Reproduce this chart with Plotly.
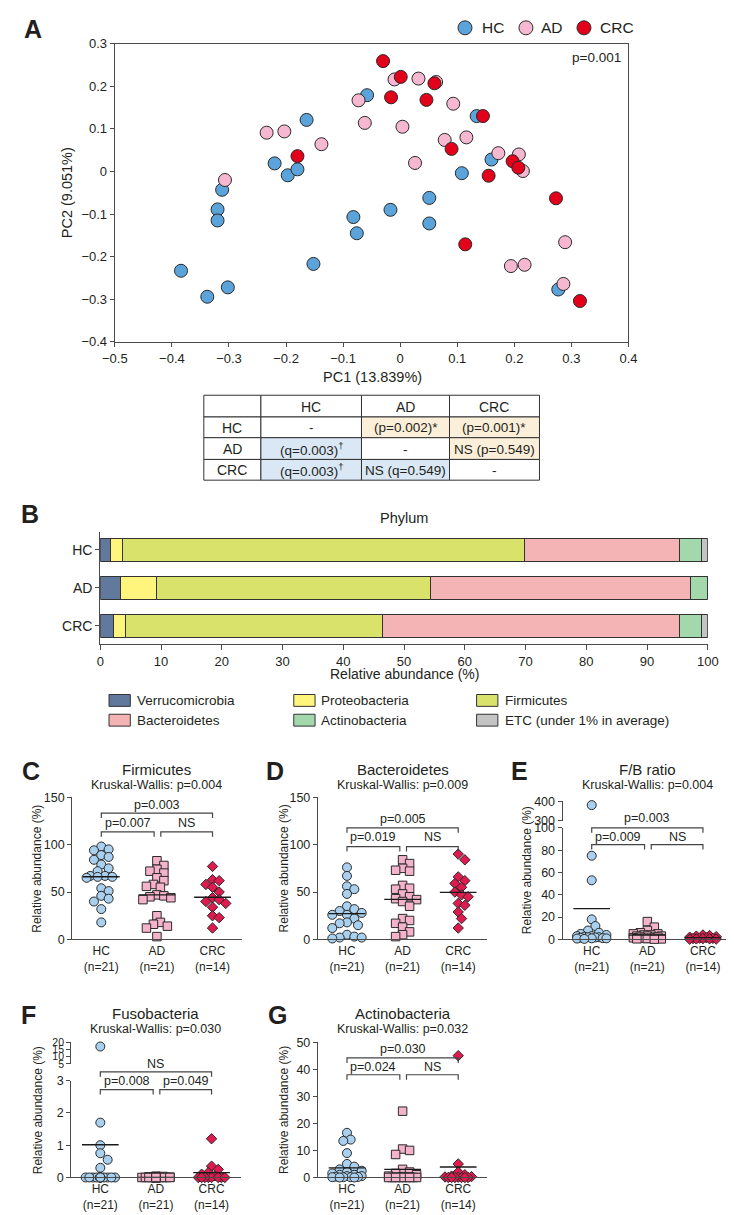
import numpy as np
import plotly.graph_objects as go

W, H = 734, 1215
FONT = "Liberation Sans, Arial, Helvetica, sans-serif"
LETTER_FONT = "Liberation Sans Narrow, Liberation Sans, Arial, sans-serif"
TXT = "#231f20"
AX = "#4a4a4a"

# ---------------- Panel A : PCoA ----------------
pcoa_groups = ["HC", "AD", "CRC"]
hc_pc1 = [-0.384, -0.338, -0.302, -0.320, -0.320, -0.312, -0.164, -0.220, -0.197, -0.180, -0.152,
          -0.082, -0.076, -0.058, -0.017, 0.051, 0.051, 0.108, 0.134, 0.160, 0.277]
hc_pc2 = [-0.233, -0.294, -0.272, -0.089, -0.115, -0.043, 0.121, 0.019, -0.009, 0.005, -0.217,
          -0.107, -0.145, 0.179, -0.090, -0.062, -0.122, -0.004, 0.130, 0.028, -0.277]
ad_pc1 = [-0.307, -0.234, -0.203, -0.138, -0.073, -0.062, -0.010, 0.032, 0.063, 0.093, 0.004,
          0.078, 0.116, 0.172, 0.208, 0.215, 0.026, 0.289, 0.194, 0.218, 0.286]
ad_pc2 = [-0.020, 0.091, 0.094, 0.064, 0.167, 0.114, 0.216, 0.218, 0.210, 0.159, 0.105,
          0.074, 0.080, 0.043, 0.040, 0.001, 0.020, -0.166, -0.222, -0.219, -0.264]
crc_pc1 = [-0.180, -0.030, 0.001, 0.060, -0.016, 0.046, 0.145, 0.090, 0.197, 0.207, 0.155,
           0.273, 0.114, 0.315]
crc_pc2 = [0.036, 0.259, 0.222, 0.207, 0.174, 0.168, 0.130, 0.053, 0.024, 0.009, -0.010,
           -0.063, -0.171, -0.304]
pcoa_p = "p=0.001"

# ---------------- Table ----------------
tbl_groups = ["HC", "AD", "CRC"]
tbl_vs_hc = ["-", "(q=0.003)<sup>†</sup>", "(q=0.003)<sup>†</sup>"]
tbl_vs_ad = ["(p=0.002)*", "-", "NS (q=0.549)"]
tbl_vs_crc = ["(p=0.001)*", "NS (p=0.549)", "-"]

# ---------------- Panel B : phylum composition ----------------
bar_groups = ["HC", "AD", "CRC"]
phyla = ["Verrucomicrobia", "Proteobacteria", "Firmicutes", "Bacteroidetes",
         "Actinobacteria", "ETC (under 1% in average)"]
verruco = [1.7, 3.4, 2.1]
proteo = [1.9, 5.8, 2.1]
firmic = [66.2, 45.1, 42.2]
bacter = [25.6, 42.9, 48.9]
actino = [3.5, 2.8, 3.7]
etc_ = [1.1, 0.0, 1.0]
phylum_colors = ["#61799c", "#fff47c", "#d9e36b", "#f4b3b5", "#a3d8ac", "#c4c4c4"]

# ---------------- Panels C-G : relative abundance ----------------
group_labels = ["HC<br>(n=21)", "AD<br>(n=21)", "CRC<br>(n=14)"]

firm_hc = [98, 95, 94, 89, 87, 84, 79, 75, 72, 67, 67, 66, 66, 65, 54, 51, 46, 43, 40, 32, 18]
firm_ad = [83, 78, 74, 72, 70, 65, 62, 58, 56, 55, 47, 46, 45, 44, 42, 25, 18, 16, 14, 12, 3]
firm_crc = [77, 63, 62, 58, 55, 50, 44, 42, 40, 38, 34, 25, 23, 12]

bact_hc = [76, 67, 56, 53, 48, 35, 32, 30, 28, 26, 26, 22, 18, 17, 15, 12, 5, 3, 2, 2, 1]
bact_ad = [84, 80, 75, 73, 72, 57, 54, 53, 48, 45, 43, 42, 40, 35, 22, 20, 17, 13, 8, 5, 3]
bact_crc = [90, 84, 66, 62, 59, 55, 50, 47, 45, 38, 36, 29, 22, 12]

fb_hc = [380, 75, 53, 18, 12, 8, 6, 5, 4, 3, 3, 2.5, 2, 2, 1.8, 1.5, 1.2, 1, 1, 0.8, 0.5]
fb_ad = [16, 11, 8, 6, 5, 5, 4, 4, 3, 3, 3, 2, 2, 2, 1.5, 1, 1, 0.8, 0.6, 0.5, 0.3]
fb_crc = [4, 3.5, 3, 2.5, 2, 1.5, 1.2, 1, 0.9, 0.8, 0.6, 0.5, 0.3, 0.2]

fuso_hc = [17.0, 1.7, 1.0, 0.75, 0.55, 0.3, 0, 0, 0, 0, 0, 0, 0, 0, 0, 0, 0, 0, 0, 0, 0]
fuso_ad = [0.04, 0.03, 0.02, 0.01, 0, 0, 0, 0, 0, 0, 0, 0, 0, 0, 0, 0, 0, 0, 0, 0, 0]
fuso_crc = [1.2, 0.35, 0.25, 0.15, 0.1, 0.05, 0, 0, 0, 0, 0, 0, 0, 0]

acti_hc = [16.5, 14, 13.5, 9, 5, 4, 3, 2.5, 2, 1.5, 1, 1, 0.5, 0.5, 0.3, 0.2, 0.1, 0.1, 0.1, 0, 0]
acti_ad = [24.5, 10.5, 10, 8.5, 3, 2, 1.5, 1, 0.5, 0.3, 0.2, 0.1, 0, 0, 0, 0, 0, 0, 0, 0, 0]
acti_crc = [45, 5, 2, 1, 0.5, 0.3, 0.2, 0.1, 0, 0, 0, 0, 0, 0]

# ---------------- helpers ----------------
def fx(px):
    return px / W


def fy(py):
    return 1 - py / H


fig = go.Figure()
shapes, annots, lay = [], [], {}


def ann(px, py, text, size=13, xanchor="center", yanchor="middle", angle=0,
        family=FONT, x=None, xref="paper"):
    annots.append(dict(x=fx(px) if x is None else x, xref=xref, y=fy(py), yref="paper",
                       text=text, showarrow=False, textangle=angle, xanchor=xanchor,
                       yanchor=yanchor, font=dict(size=size, family=family, color=TXT)))


def letter(px, py, t):
    ann(px, py, "<b>%s</b>" % t, size=25, family=LETTER_FONT)


axis_common = dict(showgrid=False, zeroline=False, showline=True, linecolor=AX, linewidth=1.3,
                   ticks="outside", tickcolor=AX, ticklen=4, tickwidth=1.2,
                   tickfont=dict(size=13, family=FONT, color=TXT))

# ---------------- Panel A ----------------
C_HC, C_AD, C_CRC = "#5ba4db", "#f5b8d0", "#e2001a"
letter(12, 14, "A")
for xs, ys, col in [(hc_pc1, hc_pc2, C_HC), (ad_pc1, ad_pc2, C_AD), (crc_pc1, crc_pc2, C_CRC)]:
    fig.add_trace(go.Scatter(x=xs, y=ys, xaxis="x", yaxis="y", mode="markers",
                             marker=dict(size=13, color=col, line=dict(color="#2a2a2a", width=1)),
                             cliponaxis=False, showlegend=False, hoverinfo="skip"))
lay["xaxis"] = dict(axis_common, domain=[fx(97), fx(628)], range=[-0.5, 0.4], dtick=0.1, tick0=0,
                    anchor="y", mirror=True)
lay["yaxis"] = dict(axis_common, domain=[fy(331), fy(29)], range=[-0.4, 0.3], dtick=0.1, tick0=0,
                    anchor="x", mirror=True)
ann(622, 43, pcoa_p, size=13.5, xanchor="right")
ann(47, 180, "PC2 (9.051%)", size=14.5, angle=-90)
ann(363, 367, "PC1 (13.839%)", size=14.5)
for px, tx, name, col in zip([459, 522, 582], [475, 536, 597], pcoa_groups, [C_HC, C_AD, C_CRC]):
    shapes.append(dict(type="circle", xref="paper", yref="paper", xsizemode="pixel",
                       ysizemode="pixel", xanchor=fx(px), yanchor=fy(13), x0=-7, x1=7, y0=-7, y1=7,
                       fillcolor=col, line=dict(color="#2a2a2a", width=1)))
    ann(tx, 13, name, size=15.5, xanchor="left")

# ---------------- Table (drawn as cells) ----------------
WH, PE, BL = "#ffffff", "#fcefd9", "#dae8f6"
col_edges = [189, 248, 352, 443, 536]
row_edges = [385, 407, 428, 450, 471]
table_rows = [[""] + tbl_groups] + [[g, a, b, c] for g, a, b, c in
                                    zip(tbl_groups, tbl_vs_hc, tbl_vs_ad, tbl_vs_crc)]
fills = [[WH, WH, WH, WH], [WH, WH, PE, PE], [WH, BL, WH, PE], [WH, BL, BL, WH]]
for r in range(4):
    for c in range(4):
        shapes.append(dict(type="rect", xref="paper", yref="paper", x0=fx(col_edges[c]),
                           x1=fx(col_edges[c + 1]), y0=fy(row_edges[r + 1]), y1=fy(row_edges[r]),
                           fillcolor=fills[r][c], line=dict(color="#333333", width=1), layer="below"))
        if table_rows[r][c]:
            ann((col_edges[c] + col_edges[c + 1]) / 2, (row_edges[r] + row_edges[r + 1]) / 2 + 0.5,
                table_rows[r][c], size=14 if (r == 0 or c == 0) else 13.5)

# ---------------- Panel B ----------------
letter(9, 505, "B")
ann(396, 509, "Phylum", size=14.5)
for name, vals, col in zip(phyla, [verruco, proteo, firmic, bacter, actino, etc_], phylum_colors):
    fig.add_trace(go.Bar(y=bar_groups, x=vals, orientation="h", xaxis="x2", yaxis="y2",
                         marker=dict(color=col, line=dict(color="#333333", width=1)), width=0.6,
                         showlegend=False, hoverinfo="skip"))
lay["barmode"] = "stack"
lay["xaxis2"] = dict(axis_common, domain=[fx(82), fx(710)], range=[0, 100], dtick=10, anchor="y2",
                     ticklen=5)
lay["yaxis2"] = dict(axis_common, domain=[fy(637), fy(523)], type="category",
                     categoryorder="array", categoryarray=bar_groups[::-1], range=[-0.48, 2.48],
                     anchor="x2", tickfont=dict(size=14, family=FONT, color=TXT))
ann(396, 667, "Relative abundance (%)", size=14)
leg_cols = [(91, 118), (282, 308), (471, 498)]
leg_rows = [694, 714]
for k, (name, col) in enumerate(zip(phyla, phylum_colors)):
    r, c = divmod(k, 3)
    bx, tx = leg_cols[c]
    yy = leg_rows[r]
    shapes.append(dict(type="rect", xref="paper", yref="paper", x0=fx(bx), x1=fx(bx + 22),
                       y0=fy(yy + 6), y1=fy(yy - 6), fillcolor=col,
                       line=dict(color="#333333", width=1)))
    ann(tx, yy, name, size=13.5, xanchor="left")

# ---------------- Panels C-G ----------------
SP = 57.5
OFF = 30
SYMS = [("circle", 9, "#a9d0ee"), ("square", 8.5, "#f4b2cb"), ("diamond", 8, "#de1a4e")]


def swarm(vals, to_px, diam=9.0, maxw=16.0):
    step = diam * 0.38
    n = int(maxw // step)
    cands = [0.0]
    for k in range(1, n + 1):
        cands += [k * step, -k * step]
    order = sorted(range(len(vals)), key=lambda i: -vals[i])
    placed = []
    offs = [0.0] * len(vals)
    for i in order:
        y = to_px(vals[i])
        best, bestc, bests = None, 0.0, -1
        for c in cands:
            dmin = min([np.hypot(c - px, y - py) for px, py in placed], default=1e9)
            if dmin >= diam * 0.76:
                best = c
                break
            if dmin > bests:
                bests, bestc = dmin, c
        if best is None:
            best = bestc
        placed.append((best, y))
        offs[i] = best
    return offs


def dot_panel(xn, yl, yu, axpx, low, up, values, title, kw, let, let_px, title_py,
              brackets, ytitle_px):
    right = min(axpx + OFF + 2 * SP + 30, W - 1)
    xr = [-OFF / SP, (right - axpx - OFF) / SP]
    lay["xaxis%d" % xn] = dict(axis_common, domain=[fx(axpx), fx(right)], range=xr,
                               tickmode="array", tickvals=[0, 1, 2], ticktext=group_labels,
                               ticks="", anchor="y%d" % yl,
                               tickfont=dict(size=12, family=FONT, color=TXT))
    lay["yaxis%d" % yl] = dict(axis_common, domain=[fy(low["bot"]), fy(low["top"])],
                               range=low["rng"], tickmode="array", tickvals=low["ticks"],
                               anchor="x%d" % xn, tickfont=dict(size=12.5, family=FONT, color=TXT))
    if up:
        lay["yaxis%d" % yu] = dict(axis_common, domain=[fy(up["bot"]), fy(up["top"])],
                                   range=up["rng"], tickmode="array", tickvals=up["ticks"],
                                   anchor="x%d" % xn,
                                   tickfont=dict(size=up.get("fs", 12.5), family=FONT, color=TXT))

    def to_px(v):
        if up and v > low["rng"][1]:
            return up["bot"] - (v - up["rng"][0]) * (up["bot"] - up["top"]) / (up["rng"][1] - up["rng"][0])
        return low["bot"] - (v - low["rng"][0]) * (low["bot"] - low["top"]) / (low["rng"][1] - low["rng"][0])

    for g, vals in enumerate(values):
        sym, size, col = SYMS[g]
        offs = swarm(vals, to_px, diam=size + 1)
        xs = [g + o / SP for o in offs]
        lo = [(x, v) for x, v in zip(xs, vals) if not (up and v > low["rng"][1])]
        hi = [(x, v) for x, v in zip(xs, vals) if up and v > low["rng"][1]]
        for pts, ya in [(lo, yl), (hi, yu)]:
            if pts:
                fig.add_trace(go.Scatter(x=[p[0] for p in pts], y=[p[1] for p in pts],
                                         xaxis="x%d" % xn, yaxis="y%d" % ya, mode="markers",
                                         marker=dict(symbol=sym, size=size, color=col,
                                                     line=dict(color="#2a2a2a", width=1)),
                                         cliponaxis=False, showlegend=False, hoverinfo="skip"))
    for g, vals in enumerate(values):
        m = float(np.mean(vals))
        fig.add_trace(go.Scatter(x=[g - 0.33, g + 0.33], y=[m, m], xaxis="x%d" % xn,
                                 yaxis="y%d" % yl, mode="lines",
                                 line=dict(color="#1a1a1a", width=1.3), cliponaxis=False,
                                 showlegend=False, hoverinfo="skip"))
    for x0, x1, ypx, lab, lpy in brackets:
        path = "M %f,%f L %f,%f L %f,%f L %f,%f" % (x0, fy(ypx + 5), x0, fy(ypx), x1, fy(ypx),
                                                    x1, fy(ypx + 5))
        shapes.append(dict(type="path", xref="x%d" % xn, yref="paper", path=path,
                           line=dict(color="#444444", width=1.2)))
        ann(0, lpy, lab, size=12.5, x=(x0 + x1) / 2, xref="x%d" % xn)
    cx = axpx + OFF + SP
    ann(cx, title_py, title, size=15)
    ann(cx, title_py + 16, kw, size=12.5)
    letter(let_px, title_py + 1, let)
    ymid = (low["bot"] + (up["top"] if up else low["top"])) / 2
    ann(ytitle_px, ymid, "Relative abundance (%)", size=12, angle=-90)


def brk(yu, lu, yl, ll, labs):
    return [(0, 2, yu, labs[0], lu), (0, 0.95, yl, labs[1], ll), (1.07, 2, yl, labs[2], ll)]


dot_panel(3, 3, None, 53, dict(rng=[0, 150], bot=936, top=792, ticks=[0, 50, 100, 150]), None,
          [firm_hc, firm_ad, firm_crc], "Firmicutes", "Kruskal-Wallis: p=0.004", "C", 10, 764,
          brk(808, 800, 827, 818, ["p=0.003", "p=0.007", "NS"]), 17)
dot_panel(4, 4, None, 307, dict(rng=[0, 150], bot=936, top=792, ticks=[0, 50, 100, 150]), None,
          [bact_hc, bact_ad, bact_crc], "Bacteroidetes", "Kruskal-Wallis: p=0.009", "D", 263, 764,
          brk(823, 814, 842, 832, ["p=0.005", "p=0.019", "NS"]), 272)
dot_panel(5, 5, 6, 560, dict(rng=[0, 100], bot=936, top=823, ticks=[0, 20, 40, 60, 80, 100]),
          dict(rng=[300, 400], bot=816, top=796, ticks=[300, 400]),
          [fb_hc, fb_ad, fb_crc], "F/B ratio", "Kruskal-Wallis: p=0.004", "E", 515, 764,
          brk(823, 813, 840, 832, ["p=0.003", "p=0.009", "NS"]), 523)
dot_panel(6, 7, 8, 52, dict(rng=[0, 3], bot=1177, top=1079, ticks=[0, 1, 2, 3]),
          dict(rng=[5, 20], bot=1062, top=1040, ticks=[5, 10, 15, 20], fs=10.5),
          [fuso_hc, fuso_ad, fuso_crc], "Fusobacteria", "Kruskal-Wallis: p=0.030", "F", 8, 1011,
          brk(1070, 1062, 1088, 1079, ["NS", "p=0.008", "p=0.049"]), 17)
dot_panel(7, 9, None, 307, dict(rng=[0, 50], bot=1177, top=1040, ticks=[0, 10, 20, 30, 40, 50]),
          None, [acti_hc, acti_ad, acti_crc], "Actinobacteria", "Kruskal-Wallis: p=0.032", "G",
          265, 1011, brk(1056, 1047, 1073, 1065, ["p=0.030", "p=0.024", "NS"]), 272)

fig.update_layout(width=W, height=H, margin=dict(l=0, r=0, t=0, b=0), paper_bgcolor="white",
                  plot_bgcolor="white", showlegend=False, font=dict(family=FONT, color=TXT),
                  shapes=shapes, annotations=annots, **lay)
fig.write_html("out.html")
